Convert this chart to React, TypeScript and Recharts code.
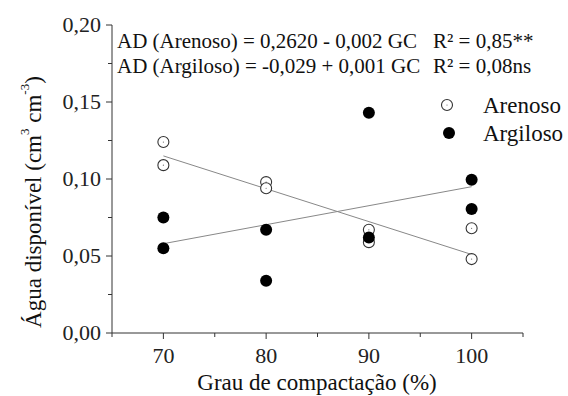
import React from "react";
import {
  ComposedChart,
  Scatter,
  Line,
  XAxis,
  YAxis,
  Customized,
} from "recharts";

// values (GC %, available water cm3/cm3)
const gcLevels = [70, 80, 90, 100];
const arenosoRep1 = [0.124, 0.098, 0.067, 0.068];
const arenosoRep2 = [0.109, 0.094, 0.059, 0.048];
const argilosoRep1 = [0.075, 0.067, 0.143, 0.0995];
const argilosoRep2 = [0.055, 0.034, 0.062, 0.0805];

// fitted lines as drawn in the figure
const fitX = [70, 100];
const arenosoFit = [0.115, 0.051];
const argilosoFit = [0.058, 0.095];

const xTicks = [65, 70, 75, 80, 85, 90, 95, 100, 105];
const xLabels = [70, 80, 90, 100];
const yTicks = [0, 0.025, 0.05, 0.075, 0.1, 0.125, 0.15, 0.175, 0.2];
const yLabels = [0, 0.05, 0.1, 0.15, 0.2];

const toPoints = (a: number[], b: number[]) =>
  gcLevels.flatMap((gc, i) => [
    { gc, ad: a[i] },
    { gc, ad: b[i] },
  ]);

const arenosoData = toPoints(arenosoRep1, arenosoRep2);
const argilosoData = toPoints(argilosoRep1, argilosoRep2);
const arenosoLine = fitX.map((gc, i) => ({ gc, ad: arenosoFit[i] }));
const argilosoLine = fitX.map((gc, i) => ({ gc, ad: argilosoFit[i] }));

const serif = { fontFamily: "'Liberation Serif', Tinos, 'DejaVu Serif', serif" };
const AXIS = "#333";

const XTick = ({ x, y, payload }: any) => {
  const major = xLabels.includes(payload.value);
  return (
    <g>
      <line x1={x} x2={x} y1={y} y2={y + (major ? 6 : 4)} stroke={AXIS} />
      {major && (
        <text x={x} y={y + 30} textAnchor="middle" fontSize={22} style={serif} fill="#222">
          {payload.value}
        </text>
      )}
    </g>
  );
};

const YTick = ({ x, y, payload }: any) => {
  const major = yLabels.some((v) => Math.abs(v - payload.value) < 1e-9);
  return (
    <g>
      <line x1={x} x2={x - (major ? 6 : 4)} y1={y} y2={y} stroke={AXIS} />
      {major && (
        <text x={x - 11} y={y + 7} textAnchor="end" fontSize={22} style={serif} fill="#222">
          {payload.value.toFixed(2).replace(".", ",")}
        </text>
      )}
    </g>
  );
};

const OpenDot = ({ cx, cy }: any) => (
  <g>
    <circle cx={cx} cy={cy} r={5.5} fill="#fff" stroke="#333" strokeWidth={1.1} />
    <circle cx={cx} cy={cy} r={0.6} fill="#666" />
  </g>
);

const FilledDot = ({ cx, cy }: any) => <circle cx={cx} cy={cy} r={6} fill="#000" />;

const Annotations = () => (
  <g style={serif} fill="#111">
    <text x={117} y={48} fontSize={21} style={serif}>AD (Arenoso) = 0,2620 - 0,002 GC</text>
    <text x={433} y={48} fontSize={21} style={serif}>R² = 0,85**</text>
    <text x={117} y={73} fontSize={21} style={serif}>AD (Argiloso) = -0,029 + 0,001 GC</text>
    <text x={433} y={73} fontSize={21} style={serif}>R² = 0,08ns</text>

    <OpenDot cx={447} cy={105} />
    <text x={483} y={113} fontSize={23} style={serif}>Arenoso</text>
    <FilledDot cx={449} cy={133} />
    <text x={483} y={141} fontSize={23} style={serif}>Argiloso</text>

    <text x={317} y={390} fontSize={23} textAnchor="middle" style={serif}>
      Grau de compactação (%)
    </text>
    <text
      x={33}
      y={202}
      fontSize={23}
      textAnchor="middle"
      dominantBaseline="central"
      transform="rotate(-90 33 202)"
      style={serif}
    >
      Água disponível (cm
      <tspan dy={-9} fontSize={13}>3</tspan>
      <tspan dy={9}> cm</tspan>
      <tspan dy={-9} fontSize={13}>-3</tspan>
      <tspan dy={9}>)</tspan>
    </text>
  </g>
);

const App = () => {
  return (
    <div style={{ position: "absolute", left: 0, top: 0, background: "#fff" }}>
      <ComposedChart
        width={568}
        height={396}
        margin={{ top: 25, right: 45, bottom: 0, left: 0 }}
      >
        <XAxis
          type="number"
          dataKey="gc"
          domain={[65, 105]}
          ticks={xTicks}
          interval={0}
          height={63}
          tickSize={0}
          tickMargin={0}
          tick={<XTick />}
          stroke={AXIS}
          allowDataOverflow
        />
        <YAxis
          type="number"
          dataKey="ad"
          domain={[0, 0.2]}
          ticks={yTicks}
          interval={0}
          width={112}
          tickSize={0}
          tickMargin={0}
          tick={<YTick />}
          stroke={AXIS}
          allowDataOverflow
        />
        <Line
          data={arenosoLine}
          dataKey="ad"
          stroke="#888"
          strokeWidth={1}
          dot={false}
          activeDot={false}
          isAnimationActive={false}
        />
        <Line
          data={argilosoLine}
          dataKey="ad"
          stroke="#888"
          strokeWidth={1}
          dot={false}
          activeDot={false}
          isAnimationActive={false}
        />
        <Scatter data={arenosoData} dataKey="ad" shape={<OpenDot />} isAnimationActive={false} />
        <Scatter data={argilosoData} dataKey="ad" shape={<FilledDot />} isAnimationActive={false} />
        <Customized component={Annotations} />
      </ComposedChart>
    </div>
  );
};

export default App;
